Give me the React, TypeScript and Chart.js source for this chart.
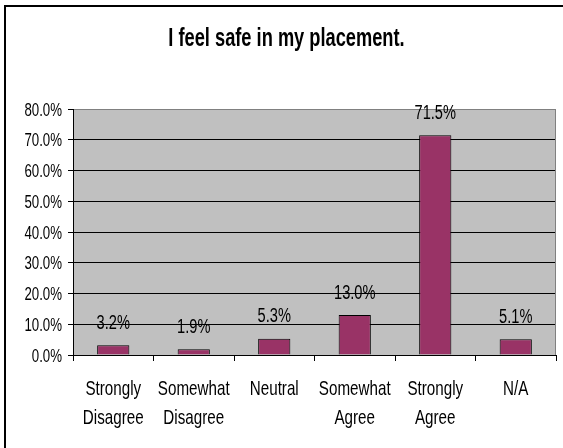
import React, { useEffect, useRef } from "react";
import { Chart, registerables } from "chart.js";

Chart.register(...registerables);

const TITLE = "I feel safe in my placement.";
const categories: string[][] = [
  ["Strongly", "Disagree"],
  ["Somewhat", "Disagree"],
  ["Neutral"],
  ["Somewhat", "Agree"],
  ["Strongly", "Agree"],
  ["N/A"],
];
const values: number[] = [3.2, 1.9, 5.3, 13.0, 71.5, 5.1];
const yMin = 0;
const yMax = 80;
const yStep = 10;

const FONT = '"Liberation Sans", Arial, Helvetica, sans-serif';
const BAR_COLOR = "#993366";
const PLOT_BG = "#C0C0C0";
const SX = 0.75;

function squeezedText(
  ctx: CanvasRenderingContext2D,
  text: string,
  x: number,
  y: number,
  font: string,
  align: CanvasTextAlign,
  sx: number = SX
) {
  ctx.save();
  ctx.font = font;
  ctx.fillStyle = "#000";
  ctx.textAlign = align;
  ctx.textBaseline = "alphabetic";
  ctx.translate(x, y);
  ctx.scale(sx, 1);
  ctx.fillText(text, 0, 0);
  ctx.restore();
}

const fmtPct = (v: number) => v.toFixed(1) + "%";

const decorPlugin = {
  id: "decor",
  beforeDraw(chart: any) {
    const { ctx, chartArea } = chart;
    ctx.save();
    ctx.fillStyle = "#fff";
    ctx.fillRect(0, 0, chart.width, chart.height);
    ctx.strokeStyle = "#000";
    ctx.lineWidth = 2;
    ctx.strokeRect(5, 6, chart.width + 20, chart.height + 20);
    ctx.fillStyle = PLOT_BG;
    ctx.fillRect(chartArea.left, chartArea.top, chartArea.right - chartArea.left, chartArea.bottom - chartArea.top);
    ctx.restore();
  },
  afterDraw(chart: any) {
    const { ctx, chartArea } = chart;
    // right edge of plot area
    ctx.save();
    ctx.strokeStyle = "#808080";
    ctx.lineWidth = 1;
    ctx.beginPath();
    ctx.moveTo(Math.round(chartArea.right) - 0.5, chartArea.top);
    ctx.lineTo(Math.round(chartArea.right) - 0.5, chartArea.bottom);
    ctx.stroke();
    ctx.restore();

    // y tick labels
    const yScale = chart.scales.y;
    yScale.ticks.forEach((t: any) => {
      const py = yScale.getPixelForValue(t.value);
      squeezedText(ctx, fmtPct(t.value), 62, py + 6.5, "17.7px " + FONT, "right");
    });

    // x category labels
    const xScale = chart.scales.x;
    const labels = chart.data.labels as string[][];
    labels.forEach((lines, i) => {
      const px = xScale.getPixelForValue(i);
      lines.forEach((line, j) => {
        squeezedText(ctx, line, px, 395 + j * 29, "20.25px " + FONT, "center");
      });
    });

    // data labels
    const meta = chart.getDatasetMeta(0);
    meta.data.forEach((bar: any, i: number) => {
      const v = chart.data.datasets[0].data[i] as number;
      squeezedText(ctx, fmtPct(v), bar.x, bar.y - 16.5, "19.5px " + FONT, "center");
    });

    // title
    squeezedText(ctx, TITLE, 286.5, 46.3, "bold 25px " + FONT, "center", 0.73);
  },
};

export default function App() {
  const ref = useRef<HTMLCanvasElement | null>(null);
  useEffect(() => {
    if (!ref.current) return;
    const chart = new Chart(ref.current, {
      type: "bar",
      data: {
        labels: categories,
        datasets: [
          {
            data: values,
            backgroundColor: BAR_COLOR,
            borderColor: "#000",
            borderWidth: 1,
            barPercentage: 0.4,
            categoryPercentage: 1,
          },
        ],
      },
      plugins: [decorPlugin],
      options: {
        animation: false,
        responsive: false,
        devicePixelRatio: 1,
        layout: { padding: { top: 109, right: 7, left: 0, bottom: 0 } },
        plugins: {
          legend: { display: false },
          title: { display: false },
          tooltip: { enabled: false },
        },
        scales: {
          x: {
            type: "category",
            offset: true,
            grid: {
              offset: true,
              drawOnChartArea: false,
              drawTicks: true,
              tickLength: 6,
              color: "#000",
            },
            border: { display: true, color: "#000", width: 1 },
            ticks: { display: false, autoSkip: false, maxRotation: 0 },
            afterFit(scale: any) {
              scale.height = 93;
            },
          },
          y: {
            min: yMin,
            max: yMax,
            ticks: {
              display: false,
              stepSize: yStep,
            },
            grid: {
              color: (c: any) => (c.tick && c.tick.value === yMax ? "#808080" : "#000"),
              tickColor: "#000",
              tickLength: 5,
              lineWidth: 1,
            },
            border: { display: true, color: "#000", width: 1 },
            afterFit(scale: any) {
              scale.width = 73;
            },
          },
        },
      },
    });
    return () => chart.destroy();
  }, []);
  return (
    <div style={{ position: "absolute", left: 0, top: 0, width: 563, height: 448 }}>
      <canvas ref={ref} width={563} height={448} style={{ display: "block" }} />
    </div>
  );
}
